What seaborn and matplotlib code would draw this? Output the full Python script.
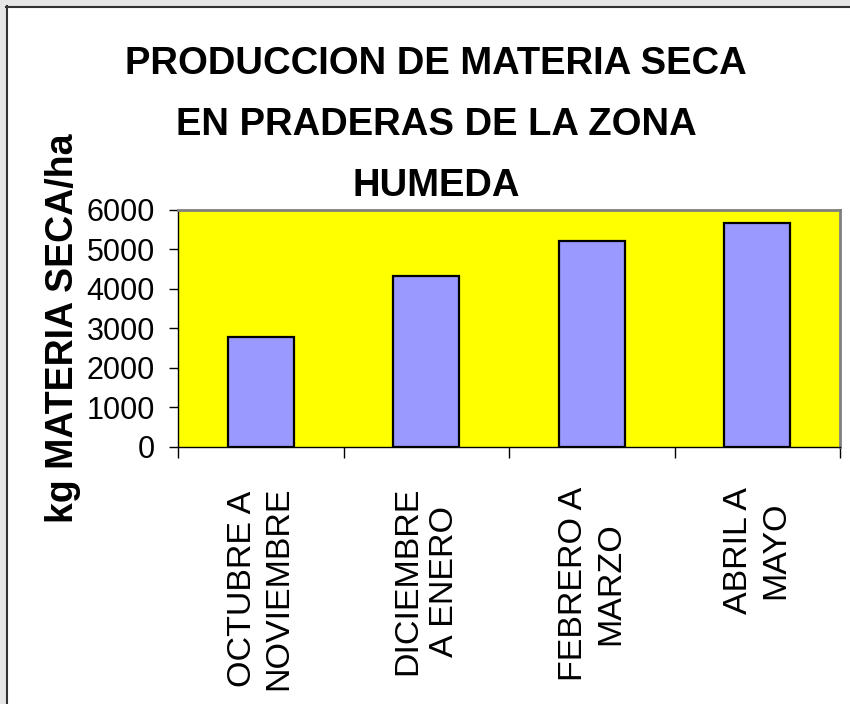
import matplotlib
matplotlib.use("Agg")
import matplotlib.pyplot as plt
from matplotlib.patches import Rectangle
from matplotlib.lines import Line2D
import seaborn as sns
import pandas as pd

# ---- data ----
categories = ["OCTUBRE A\nNOVIEMBRE", "DICIEMBRE\nA ENERO", "FEBRERO A\nMARZO", "ABRIL A\nMAYO"]
values = [2780, 4330, 5200, 5650]
yticks = [0, 1000, 2000, 3000, 4000, 5000, 6000]
title = "PRODUCCION DE MATERIA SECA\nEN PRADERAS DE LA ZONA\nHUMEDA"
ylabel = "kg MATERIA SECA/ha"

REG = ["Liberation Sans", "DejaVu Sans"]

W, H = 850, 704
fig = plt.figure(figsize=(W / 100, H / 100), dpi=100)
fig.patch.set_facecolor("white")

# window frame (top / left)
fig.patches.append(Rectangle((0, 1 - 6 / H), 1, 6 / H, transform=fig.transFigure,
                             facecolor="#e6e6e6", edgecolor="none", zorder=0))
fig.patches.append(Rectangle((0, 0), 6 / W, 1, transform=fig.transFigure,
                             facecolor="#e6e6e6", edgecolor="none", zorder=0))
fig.lines.append(Line2D([6 / W, 1], [1 - 6.5 / H, 1 - 6.5 / H], transform=fig.transFigure,
                        color="#333333", lw=1.5))
fig.lines.append(Line2D([6.5 / W, 6.5 / W], [0, 1 - 6 / H], transform=fig.transFigure,
                        color="#333333", lw=1.5))

left, right, top, bottom = 178, 840, 209.5, 446.7
ax = fig.add_axes([left / W, 1 - bottom / H, (right - left) / W, (bottom - top) / H])
ax.set_facecolor("#FFFF00")

df = pd.DataFrame({"periodo": categories, "valor": values})
sns.barplot(data=df, x="periodo", y="valor", color="#9999FF", saturation=1,
            edgecolor="black", linewidth=1.6, width=0.4, ax=ax)

ax.set_ylim(0, 6000)
ax.set_xlim(-0.5, len(categories) - 0.5)
ax.set_yticks(yticks)
ax.set_yticklabels([str(v) for v in yticks], family=REG, fontsize=22)
ax.tick_params(axis="y", length=6.5, width=1, color="black", pad=10)

ax.set_xticks(range(len(categories)))
ax.set_xticklabels(categories, rotation=90, ha="center", va="top",
                   family=REG, fontsize=24.5, linespacing=1.25, multialignment="center")
ax.tick_params(axis="x", which="major", length=0, pad=29)
ax.set_xticks([i - 0.5 for i in range(len(categories) + 1)], minor=True)
ax.tick_params(axis="x", which="minor", length=8, width=1, color="black")

ax.set_xlabel("")
lab = ax.set_ylabel(ylabel, family=REG, fontsize=27, fontweight="bold", va="center")
ax.yaxis.set_label_coords((63 - left) / (right - left), 0.5)

for s in ["top", "right"]:
    ax.spines[s].set_color("#808080")
    ax.spines[s].set_linewidth(2)
for s in ["left", "bottom"]:
    ax.spines[s].set_color("black")
    ax.spines[s].set_linewidth(1)

fig.text(436 / W, 1 - 125 / H, title, ha="center", va="center", multialignment="center",
         family=REG, fontsize=27.5, fontweight="bold", linespacing=1.9)

fig.savefig("out.png", dpi=100)
